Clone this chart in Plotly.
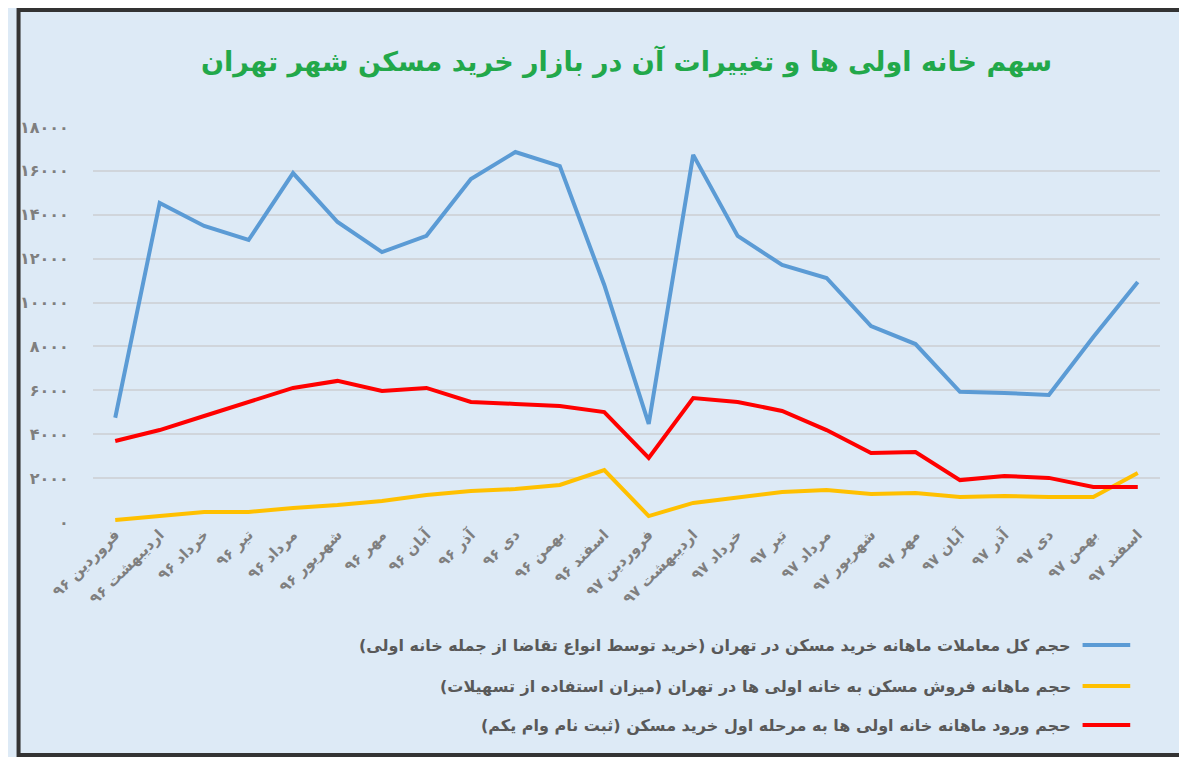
import plotly.graph_objects as go

months = ["فروردین", "اردیبهشت", "خرداد", "تیر", "مرداد", "شهریور",
          "مهر", "آبان", "آذر", "دی", "بهمن", "اسفند"]
categories = [m + " ۹۶" for m in months] + [m + " ۹۷" for m in months]

total_deals = [4750, 14540, 13490, 12850, 15900, 13670, 12300, 13040, 15630, 16860, 16220, 10800,
               4470, 16730, 13040, 11710, 11120, 8930, 8110, 5930, 5880, 5790, 8430, 10940]
first_home_sales = [90, 270, 460, 460, 640, 770, 960, 1230, 1410, 1500, 1690, 2370,
                    270, 870, 1140, 1370, 1460, 1280, 1320, 1140, 1190, 1140, 1140, 2230]
first_home_entries = [3690, 4190, 4830, 5470, 6110, 6430, 5970, 6110, 5470, 5380, 5290, 5010,
                      2920, 5650, 5470, 5060, 4190, 3140, 3190, 1910, 2100, 2010, 1600, 1600]

tick_vals = [0, 2000, 4000, 6000, 8000, 10000, 12000, 14000, 16000, 18000]
tick_text = ["۰", "۲۰۰۰", "۴۰۰۰", "۶۰۰۰", "۸۰۰۰", "۱۰۰۰۰", "۱۲۰۰۰", "۱۴۰۰۰", "۱۶۰۰۰", "۱۸۰۰۰"]

series = [
    ("حجم کل معاملات ماهانه خرید مسکن در تهران (خرید توسط انواع تقاضا از جمله خانه اولی)", total_deals, "#5b9bd5"),
    ("حجم ماهانه فروش مسکن به خانه اولی ها در تهران (میزان استفاده از تسهیلات)", first_home_sales, "#ffc000"),
    ("حجم ورود ماهانه خانه اولی ها به مرحله اول خرید مسکن (ثبت نام وام یکم)", first_home_entries, "#ff0000"),
]

fig = go.Figure()
for name, vals, color in series:
    fig.add_trace(go.Scatter(x=categories, y=vals, mode="lines", name=name,
                             line=dict(color=color, width=4)))

# page body adds an 8px offset, so draw slightly smaller than the window
W, H = 1179, 749
ml, mr, mt, mb = 77, 27, 119, 235
pw, ph = W - ml - mr, H - mt - mb

def px(x):
    return (x - ml) / pw

def py(y):
    return (H - mb - y) / ph

shapes = [dict(type="rect", xref="paper", yref="paper", x0=px(2), x1=px(W - 2), y0=py(H - 2), y1=py(2),
               line=dict(color="#333333", width=4), layer="below")]
annotations = []
for (name, vals, color), ly in zip(series, [637, 678, 717]):
    shapes.append(dict(type="line", xref="paper", yref="paper", x0=px(1074), x1=px(1122),
                       y0=py(ly), y1=py(ly), line=dict(color=color, width=4)))
    annotations.append(dict(text="<b>" + name + "</b>", xref="paper", yref="paper", x=px(1064), y=py(ly),
                            xanchor="right", yanchor="middle", showarrow=False,
                            font=dict(size=16, color="#595959", family="DejaVu Sans")))

fig.update_layout(
    width=W, height=H,
    margin=dict(l=ml, r=mr, t=mt, b=mb),
    paper_bgcolor="#ddeaf6", plot_bgcolor="#ddeaf6",
    showlegend=False,
    title=dict(text="<b>سهم خانه اولی ها و تغییرات آن در بازار خرید مسکن شهر تهران</b>",
               x=0.5, xref="paper", y=1 - 54 / H, yanchor="middle",
               font=dict(size=27, color="#22a84a", family="DejaVu Sans")),
    shapes=shapes, annotations=annotations,
    xaxis=dict(tickangle=-45, showgrid=False, range=[-0.5, 23.5],
               tickvals=categories, ticktext=["<b>" + c + "</b>" for c in categories],
               tickfont=dict(size=15, color="#7f7f7f", family="DejaVu Sans")),
    yaxis=dict(range=[0, 18000], tickvals=tick_vals, ticktext=["<b>" + t + "</b>" for t in tick_text],
               gridcolor="#d0d5db", gridwidth=2, zeroline=False, ticklen=20, ticks="outside",
               tickcolor="rgba(0,0,0,0)",
               tickfont=dict(size=16, color="#7f7f7f", family="DejaVu Sans")),
)

fig.write_html("out.html")
